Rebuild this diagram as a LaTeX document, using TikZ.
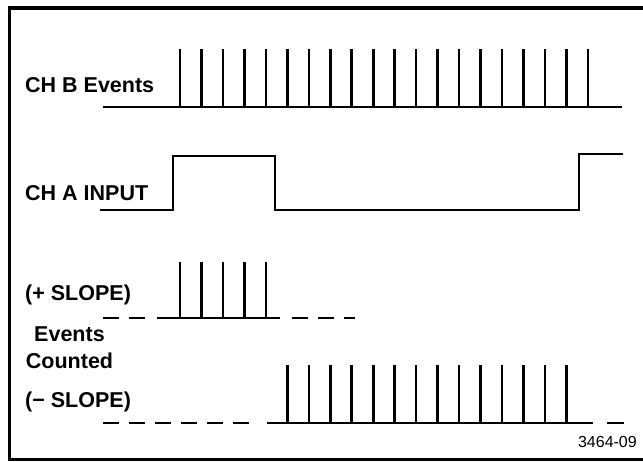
\documentclass[tikz,border=0pt]{standalone}
\usepackage{fontspec}
\setmainfont{Liberation Sans}
\tikzset{
  wave/.style={line width=2.6pt, line join=miter},
  gap/.style={wave, dash pattern=on 16pt off 10pt},
  lbl/.style={font=\fontsize{21.5}{27}\selectfont\bfseries, inner sep=0pt},
  frame/.style={line width=3.8pt},
}
\begin{document}
\begin{tikzpicture}[x=1pt,y=-1pt]
\useasboundingbox (0,0) rectangle (643,461);
% frame, open on the right
\draw[frame] (643,8)--(9.5,8)--(9.5,459.5)--(643,459.5);
% labels
\node[lbl, anchor=base west] (chb) at (25,92) {CH B Events};
\node[lbl, anchor=base west] (cha) at (25,200) {CH A INPUT};
\node[lbl, anchor=base west] (pos) at (25,300) {(+ SLOPE)};
\node[lbl, anchor=base, align=center] (evt) at (69.5,368) {Events\\Counted};
\node[lbl, anchor=base west] (neg) at (25,407) {(\textminus\ SLOPE)};
\node[font=\fontsize{16}{18}\selectfont, inner sep=0pt, anchor=base east] (fig) at (637,447) {3464-09};
% CH B events
\draw[wave] (103,107)--(622,107);
\foreach \i in {0,...,19}{
  \pgfmathsetmacro\px{180+21.47*\i}
  \draw[wave] (\px,107)--(\px,49);
}
% CH A input
\draw[wave] (100,210)--(173,210)--(173,156)--(275,156)--(275,210)--(579,210)--(579,154)--(623,154);
% events counted, + slope
\draw[gap] (103,318)--(147,318);
\draw[wave] (157,318)--(280,318);
\draw[gap] (292,318)--(355,318);
\foreach \i in {0,...,4}{
  \pgfmathsetmacro\px{180+21.47*\i}
  \draw[wave] (\px,318)--(\px,262);
}
% events counted, - slope
\draw[gap] (103,423)--(249,423);
\draw[wave] (267,423)--(593,423);
\draw[wave] (607,423)--(624,423);
\foreach \i in {5,...,18}{
  \pgfmathsetmacro\px{180+21.47*\i}
  \draw[wave] (\px,423)--(\px,365);
}
\end{tikzpicture}
\end{document}
